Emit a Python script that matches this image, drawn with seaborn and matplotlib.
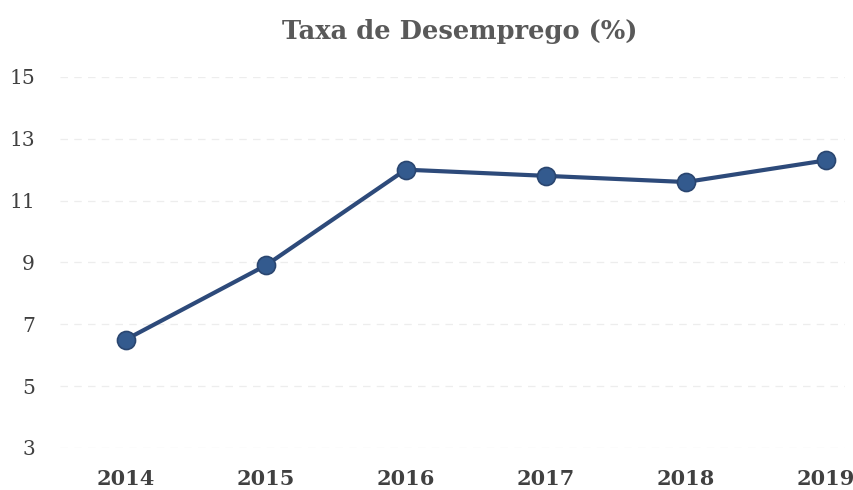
import matplotlib
matplotlib.use("Agg")
import matplotlib.pyplot as plt
import seaborn as sns
import pandas as pd

# Data
anos = ["2014", "2015", "2016", "2017", "2018", "2019"]
taxa = [6.5, 8.9, 12.0, 11.8, 11.6, 12.3]
y_ticks = [3, 5, 7, 9, 11, 13, 15]

df = pd.DataFrame({"ano": anos, "taxa": taxa})

sns.set_theme(style="white")
plt.rcParams["font.family"] = ["DejaVu Serif"]

fig = plt.figure(figsize=(8.54, 4.9), dpi=100)
ax = fig.add_axes([0.07, 0.086, 0.92, 0.757])

sns.lineplot(data=df, x="ano", y="taxa", ax=ax, color="#2d4a7a",
             linewidth=3, marker="o", markersize=13,
             markerfacecolor="#335a8e", markeredgecolor="#2a4670",
             markeredgewidth=1.2, sort=False)

ax.set_ylim(3, 15)
ax.set_yticks(y_ticks)
ax.set_xlim(-0.47, 5.14)
ax.yaxis.grid(True, color="#ededed", linewidth=0.9, linestyle=(0, (6, 5)))
ax.xaxis.grid(False)
for s in ax.spines.values():
    s.set_visible(False)
ax.set_xlabel("")
ax.set_ylabel("")
ax.tick_params(axis="y", labelsize=14.5, labelcolor="#404040", length=0, pad=18)
ax.tick_params(axis="x", labelsize=15, labelcolor="#404040", length=0, pad=15)
for lbl in ax.get_xticklabels():
    lbl.set_fontweight("bold")

fig.text(0.538, 0.935, "Taxa de Desemprego (%)", ha="center", va="center",
         fontsize=18.5, fontweight="bold", color="#595959")

fig.savefig("out.png", dpi=100)
